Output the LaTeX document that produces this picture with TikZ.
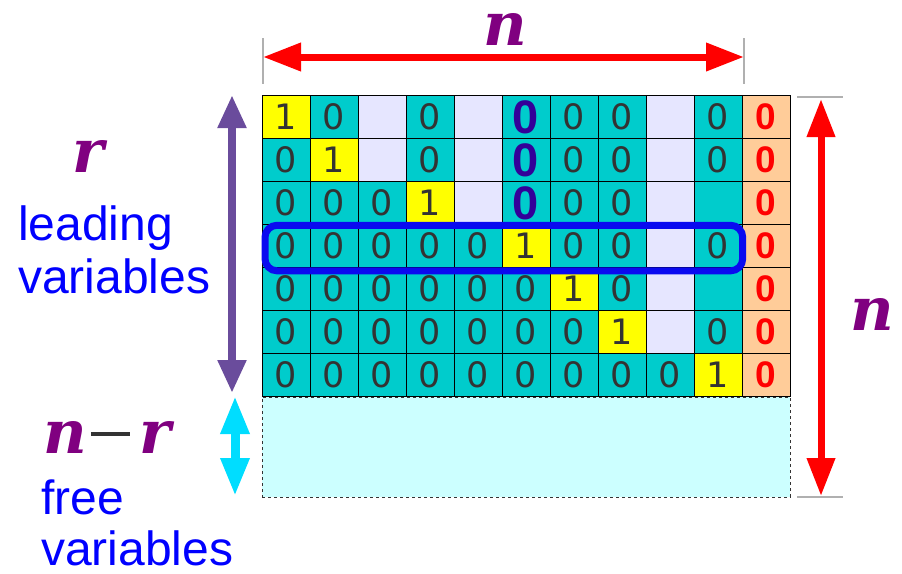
\documentclass[tikz,border=0pt]{standalone}
\usepackage{fontspec}
\setmainfont{Liberation Sans}
\newfontfamily\digfont{DejaVu Sans}
\newfontfamily\varfont{DejaVu Serif}
\newfontfamily\boldsans{Liberation Sans Bold}
\usetikzlibrary{arrows.meta}
\definecolor{cellcyan}{RGB}{0,204,204}
\definecolor{cellyellow}{RGB}{255,255,0}
\definecolor{celllav}{RGB}{230,230,255}
\definecolor{cellorange}{RGB}{255,204,153}
\definecolor{freecyan}{RGB}{204,255,255}
\definecolor{digitgray}{RGB}{51,51,51}
\definecolor{boldblue}{RGB}{51,0,153}
\definecolor{labpurple}{RGB}{128,0,128}
\definecolor{textblue}{RGB}{0,0,255}
\definecolor{arrpurple}{RGB}{106,76,156}
\definecolor{arrcyan}{RGB}{0,221,255}
\definecolor{rowblue}{RGB}{10,10,240}
\definecolor{tickgray}{RGB}{176,176,176}
\tikzset{
  cell/.style={draw=black, line width=1pt, minimum width=48pt, minimum height=43pt,
    inner sep=0pt, text=digitgray, font=\digfont\fontsize{35}{35}\selectfont},
  cellC/.style={cell, fill=cellcyan},
  cellE/.style={cell, fill=cellcyan},
  cellY/.style={cell, fill=cellyellow},
  cellL/.style={cell, fill=celllav},
  cellB/.style={cell, fill=cellcyan, text=boldblue, font=\boldsans\fontsize{47}{47}\selectfont},
  cellR/.style={cell, fill=cellorange, text=red, font=\boldsans\fontsize{37}{37}\selectfont},
  varlab/.style={text=labpurple, inner sep=0pt, font=\varfont\bfseries\itshape\fontsize{60}{60}\selectfont},
  bluetext/.style={text=textblue, inner sep=0pt, font=\fontsize{48}{48}\selectfont},
  redarrow/.style={draw=red, line width=7pt, {Triangle[length=38pt,width=27pt]}-{Triangle[length=38pt,width=27pt]}},
  purplearrow/.style={draw=arrpurple, line width=8pt, {Triangle[length=33pt,width=27pt]}-{Triangle[length=33pt,width=27pt]}},
  cyanarrow/.style={draw=arrcyan, line width=9pt, {Triangle[length=38pt,width=27pt]}-{Triangle[length=38pt,width=27pt]}},
  tick/.style={draw=tickgray, line width=1.5pt},
  freebox/.style={draw=digitgray, line width=1pt, dash pattern=on 3pt off 3pt, fill=freecyan,
    minimum width=528pt, minimum height=100pt, inner sep=0pt},
  rowbox/.style={draw=rowblue, line width=7pt, rounded corners=12pt, minimum width=477.7pt,
    minimum height=45.5pt, inner sep=0pt}
}
\def\txtC{0}\def\txtY{1}\def\txtE{}\def\txtL{}\def\txtB{0}\def\txtR{0}
\begin{document}
\begin{tikzpicture}[x=1pt,y=-1pt]
\useasboundingbox (0,0) rectangle (902,573);
% free variables region
\node[freebox] (free) at (526,447) {};
% matrix cells
\foreach \row [count=\i] in {
  {Y,C,L,C,L,B,C,C,L,C,R},
  {C,Y,L,C,L,B,C,C,L,C,R},
  {C,C,C,Y,L,B,C,C,L,E,R},
  {C,C,C,C,C,Y,C,C,L,C,R},
  {C,C,C,C,C,C,Y,C,L,E,R},
  {C,C,C,C,C,C,C,Y,L,C,R},
  {C,C,C,C,C,C,C,C,C,Y,R}}{
  \foreach \t [count=\j] in \row {
    \node[cell\t] (c-\i-\j) at ({238+48*\j},{74.2+43*\i}) {\csname txt\t\endcsname};
  }
}
% highlighted row
\node[rowbox] (lead) at (503.85,248.05) {};
% top dimension
\coordinate (tt1) at (263,38); \coordinate (tb1) at (263,84);
\coordinate (tt2) at (744,38); \coordinate (tb2) at (744,84);
\draw[tick] (tt1) -- (tb1);
\draw[tick] (tt2) -- (tb2);
\coordinate (al) at (263,57); \coordinate (ar) at (744,57);
\draw[redarrow] (al) -- (ar);
\node[varlab, anchor=base] (ntop) at (505,45) {n};
% right dimension
\coordinate (rt1) at (797,97); \coordinate (rt2) at (843,97);
\coordinate (rb1) at (797,497); \coordinate (rb2) at (843,497);
\draw[tick] (rt1) -- (rt2);
\draw[tick] (rb1) -- (rb2);
\coordinate (au) at (821,99); \coordinate (ad) at (821,496);
\draw[redarrow] (au) -- (ad);
\node[varlab, anchor=base] (nright) at (872,330) {n};
% left: leading variables
\coordinate (pu) at (232,95); \coordinate (pd) at (232,393);
\draw[purplearrow] (pu) -- (pd);
\node[varlab, anchor=base] (rlab) at (88,172) {r};
\node[bluetext, anchor=base west] (lead1) at (18,240) {leading};
\node[bluetext, anchor=base west] (lead2) at (18,293) {variables};
% left: free variables
\coordinate (cu) at (235,396); \coordinate (cd) at (235,496);
\draw[cyanarrow] (cu) -- (cd);
\node[varlab, anchor=base west] (nmr) at (43,453) {n\hspace{4pt}{\color{digitgray}\rule[17.5pt]{39pt}{4pt}}\hspace{10pt}r};
\node[bluetext, anchor=base west] (free1) at (41,514) {free};
\node[bluetext, anchor=base west] (free2) at (41,565) {variables};
\end{tikzpicture}
\end{document}
